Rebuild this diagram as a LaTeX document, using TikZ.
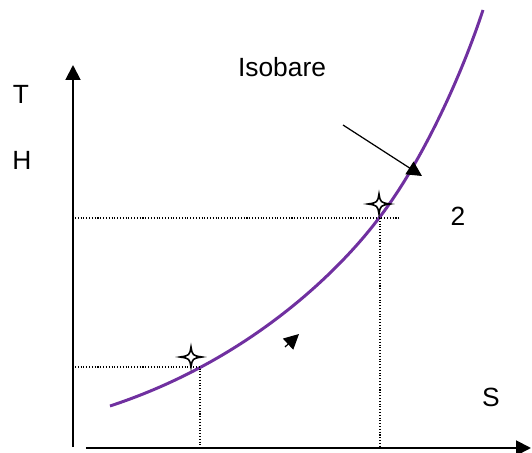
\documentclass[tikz,border=0pt]{standalone}
\usepackage{fontspec}
\setmainfont{Liberation Sans}
\usepackage{xcolor}
\usetikzlibrary{arrows.meta}
\definecolor{isopurple}{HTML}{7030A0}
\tikzset{
  axis/.style={-{Triangle[length=8.5pt, width=8.5pt]}, line width=1.1pt},
  isobar/.style={draw=isopurple, line width=1.7pt},
  guide/.style={densely dotted, line width=0.6pt},
  starmark/.style={draw=black, fill=white, line width=0.9pt},
  lbl/.style={font=\fontsize{15}{17}\selectfont, inner sep=0pt},
  pointer/.style={-{Triangle[length=8.5pt, width=8.5pt]}, line width=0.7pt}
}
% four-point star around a named coordinate
\newcommand{\starmarkat}[1]{%
  \begin{scope}[shift={(#1)}]
    \draw[starmark] (0,-10) .. controls (1.5,-1.5) .. (11,0)
      .. controls (1.5,1.5) .. (0,10) .. controls (-1.5,1.5) .. (-11,0)
      .. controls (-1.5,-1.5) .. cycle;
  \end{scope}}

\begin{document}
\begin{tikzpicture}[x=0.02cm, y=-0.02cm]
  \useasboundingbox (0,0) rectangle (532,453);

  % axes
  \coordinate (ybot) at (73,447);
  \coordinate (ytop) at (73,65);
  \coordinate (xleft) at (86,448);
  \coordinate (xright) at (531,448);
  \draw[axis] (ybot) -- (ytop);
  \draw[axis] (xleft) -- (xright);

  % isobar
  \coordinate (c0) at (110,406);
  \coordinate (c1) at (379,218);
  \coordinate (c2) at (483,10);
  \draw[isobar] (c0) .. controls (250,360) and (340,270) .. (c1)
    .. controls (420,165) and (460,80) .. (c2);

  % state points
  \coordinate (p1) at (200,367);
  \coordinate (p2) at (380,218);
  \coordinate (p1y) at (75,367);
  \coordinate (p1x) at (200,446);
  \coordinate (p2y) at (75,218);
  \coordinate (p2r) at (400,218);
  \coordinate (p2x) at (380,446);
  \draw[guide] (p1y) -- (p1) -- (p1x);
  \draw[guide] (p2y) -- (p2r);
  \draw[guide] (p2) -- (p2x);

  \coordinate (s1) at (191,357);
  \coordinate (s2) at (379,204);
  \starmarkat{s1}
  \starmarkat{s2}

  % labels
  \node[lbl] (tlab) at (21,94) {T};
  \node[lbl] (hlab) at (22,160) {H};
  \node[lbl] (isolab) at (282,67) {Isobare};
  \node[lbl] (twolab) at (458,216) {2};
  \node[lbl] (slab) at (491,397) {S};

  % arrows
  \coordinate (ptail) at (343,125);
  \coordinate (ptip) at (422,176);
  \draw[pointer] (ptail) -- (ptip);
  \coordinate (dtail) at (285,347);
  \coordinate (dtip) at (299,334);
  \draw[pointer] (dtail) -- (dtip);
\end{tikzpicture}
\end{document}
